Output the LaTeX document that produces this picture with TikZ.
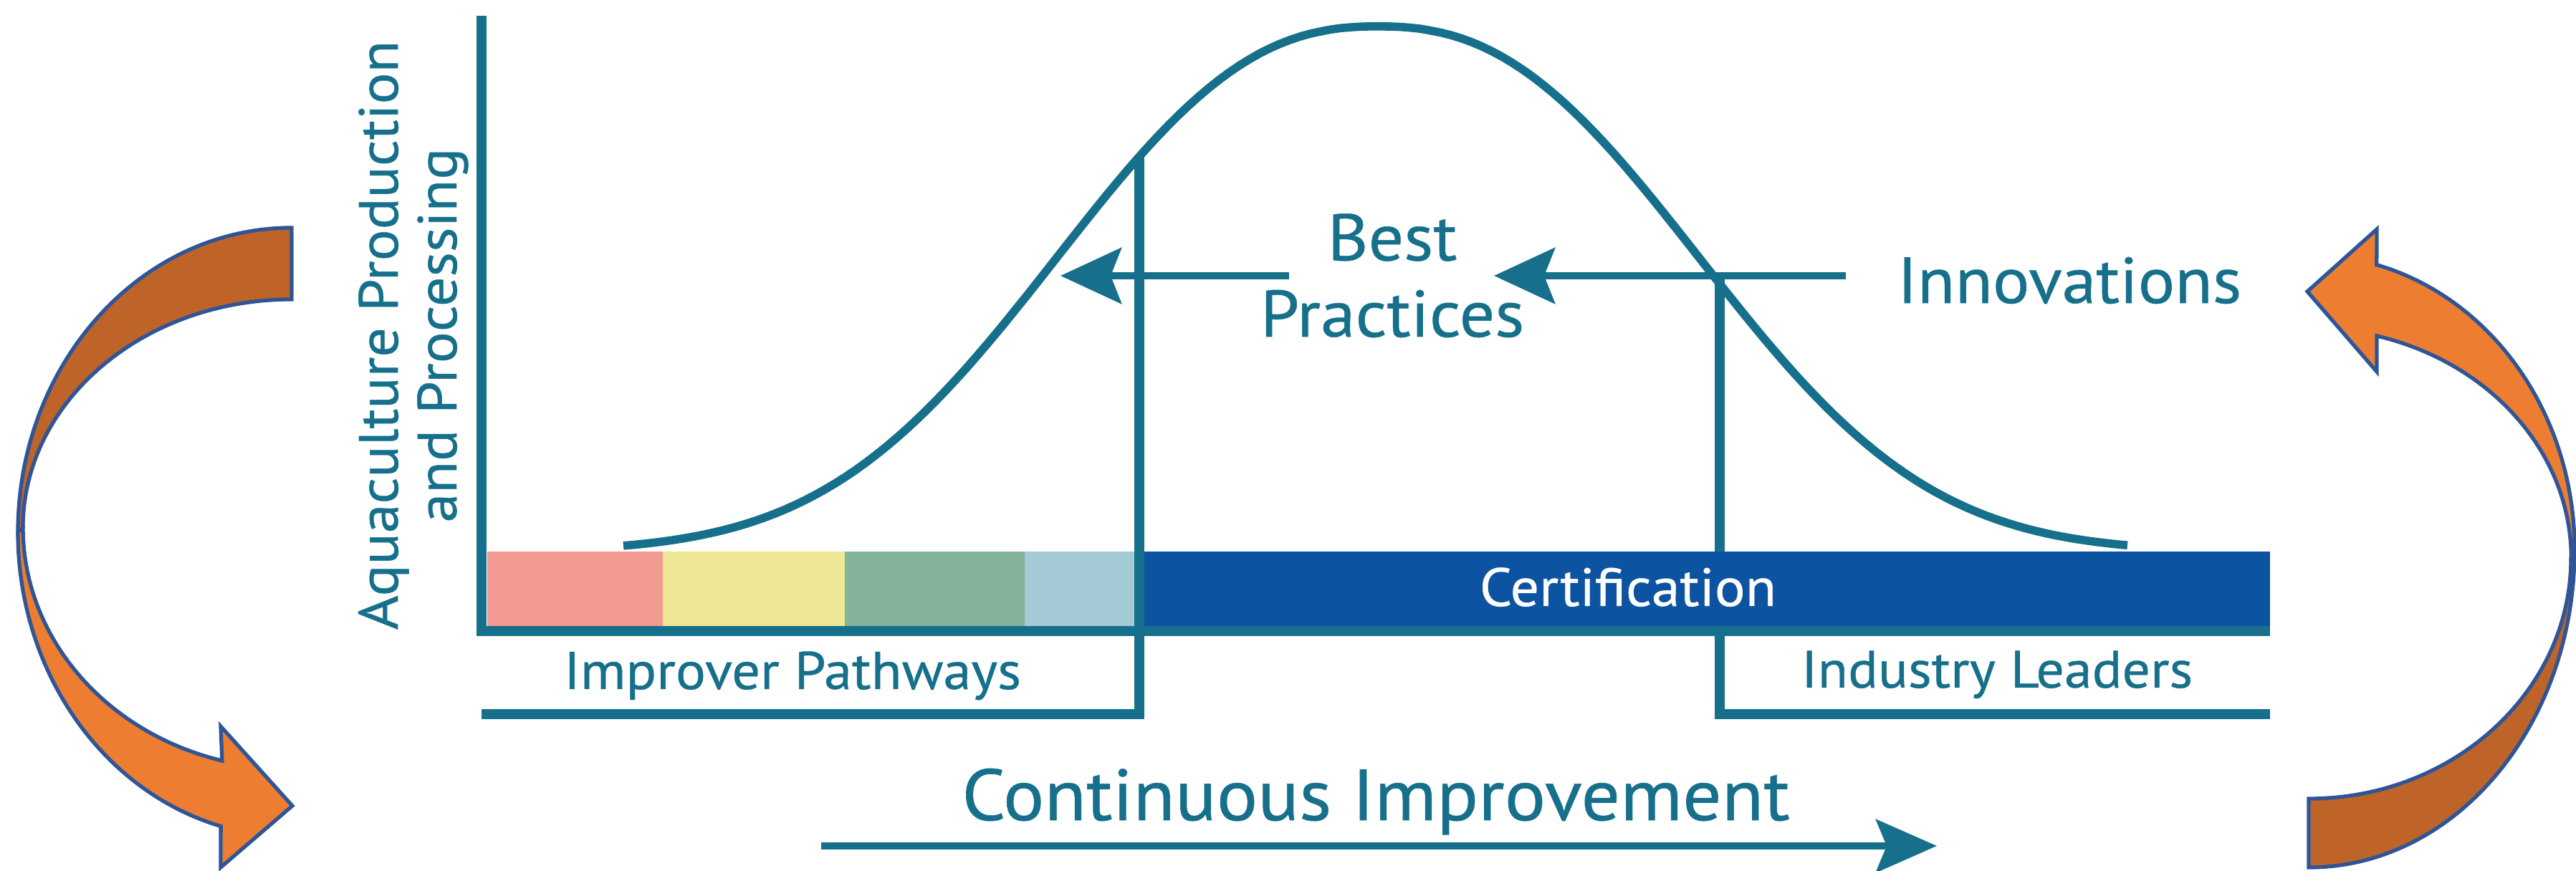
\documentclass[tikz,border=0pt]{standalone}
\usepackage{fontspec}
\setmainfont{PT Sans}[FakeStretch=1.06, FakeBold=0.6]
\usetikzlibrary{arrows.meta}

\definecolor{lineteal}{HTML}{16708B}
\definecolor{certblue}{HTML}{0C53A1}
\definecolor{barpink}{HTML}{F09A91}
\definecolor{baryellow}{HTML}{EEE795}
\definecolor{bargreen}{HTML}{84B39B}
\definecolor{barblue}{HTML}{A3CAD5}
\definecolor{loopfront}{HTML}{ED7D31}
\definecolor{loopback}{HTML}{BE6429}
\definecolor{looprim}{HTML}{2F5597}

\begin{document}
\begin{tikzpicture}[
        axisline/.style={draw=lineteal, line width=4pt},
        bellcurve/.style={draw=lineteal, line width=3.3pt},
        flow/.style={draw=lineteal, line width=2.8pt,
                -{Stealth[length=8.5mm, width=7.8mm, inset=1.5mm]}},
        lbl/.style={text=lineteal, inner sep=0pt, anchor=base},
        ribbon/.style={draw=looprim, line width=1.5pt, line join=miter}]
\useasboundingbox (0,0) rectangle (35.95,12.16);
% colour bands
\fill[barpink] (6.80,3.35) rectangle (9.25,4.46);
\fill[baryellow] (9.25,3.35) rectangle (11.79,4.46);
\fill[bargreen] (11.79,3.35) rectangle (14.30,4.46);
\fill[barblue] (14.30,3.35) rectangle (15.83,4.46);
% brackets
\draw[axisline] (31.68,2.19) -- (24.00,2.19) -- (24.00,8.31);
\draw[axisline] (6.72,2.19) -- (15.90,2.19) -- (15.90,9.98);
\fill[certblue] (15.97,3.35) rectangle (31.68,4.46);
\draw[axisline] (6.72,11.94) -- (6.72,3.35) -- (31.68,3.35);
% bell
\draw[bellcurve] plot[domain=8.70:29.69, samples=150]
        (\x,{4.46+7.33*exp(-pow(abs(\x-19.23)/5.63+0.001,2.4))});
% texts
\node[lbl, font=\fontsize{28.8}{34}\selectfont] (ci) at (19.20,0.71) {Continuous Improvement};
\node[lbl, font=\fontsize{25.8}{31}\selectfont] (innov) at (28.88,7.93) {Innovations};
\node[lbl, align=center, font=\fontsize{26.2}{30.3}\selectfont] (best) at (19.43,7.46) {Best\\Practices};
\node[lbl, text=white, font=\fontsize{21.4}{26}\selectfont] (cert) at (22.72,3.70) {Certification};
\node[lbl, font=\fontsize{21.1}{26}\selectfont] (improver) at (11.06,2.54) {Improver Pathways};
\node[lbl, font=\fontsize{20.9}{25}\selectfont] (leaders) at (27.87,2.56) {Industry Leaders};
\node[lbl, rotate=90, align=center, font=\fontsize{22}{23.3}\selectfont] (yaxis) at (6.37,7.48)
        {Aquaculture Production\\and Processing};
% arrows
\coordinate (innovfrom) at (25.76,8.31);
\coordinate (innovto) at (20.85,8.31);
\coordinate (bestfrom) at (17.99,8.31);
\coordinate (bestto) at (14.80,8.31);
\coordinate (cifrom) at (11.46,0.35);
\coordinate (cito) at (27.03,0.35);
\draw[flow] (innovfrom) -- (innovto);
\draw[flow] (bestfrom) -- (bestto);
\draw[flow, -{Stealth[length=8.5mm, width=7.4mm, inset=1.5mm]}] (cifrom) -- (cito);
% left loop
\path[ribbon, fill=loopback] (4.07,8.98) arc[start angle=90, end angle=180, x radius=3.82, y radius=4.25]
        -- (0.32,4.79) arc[start angle=180, end angle=90, x radius=3.75, y radius=3.19] -- cycle;
\path[ribbon, fill=loopfront] (0.25,4.73) arc[start angle=180, end angle=255, x radius=3.82, y radius=4.25]
        -- (3.08,0.05) -- (4.08,0.91) -- (3.08,2.02) -- (3.10,1.54)
        arc[start angle=255, end angle=180, x radius=3.75, y radius=3.37] -- cycle;
% right loop
\path[ribbon, fill=loopback] (35.93,4.49) arc[start angle=0, end angle=-90, x radius=3.71, y radius=4.44]
        -- (32.22,1.01) arc[start angle=-90, end angle=0, x radius=3.66, y radius=3.36] -- cycle;
\path[ribbon, fill=loopfront] (35.93,4.49) arc[start angle=0, end angle=75.2, x radius=3.71, y radius=4.11]
        -- (33.17,8.96) -- (32.20,8.09) -- (33.17,6.97) -- (33.17,7.47)
        arc[start angle=75, end angle=0, x radius=3.66, y radius=3.21] -- cycle;
\end{tikzpicture}
\end{document}
